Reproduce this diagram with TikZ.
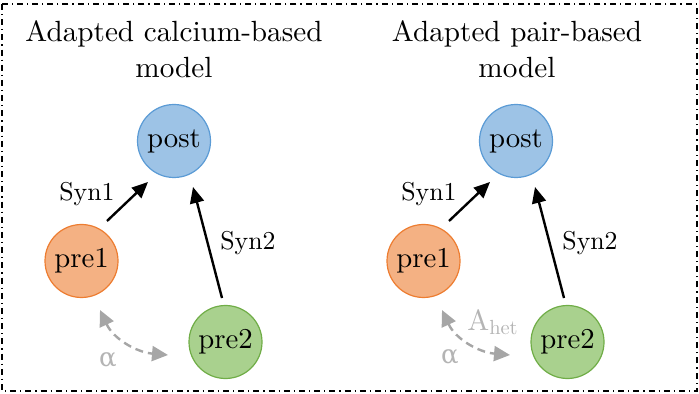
\documentclass[tikz,border=0pt]{standalone}
\usepackage{fontspec}
\setmainfont{lmroman10-regular.otf}[BoldFont=lmroman10-bold.otf,ItalicFont=lmroman10-italic.otf]
\newfontfamily\alphafont{DejaVu Serif}
\usetikzlibrary{arrows.meta,calc}
\definecolor{postfill}{HTML}{9DC3E6}
\definecolor{postdraw}{HTML}{5B9BD5}
\definecolor{preonefill}{HTML}{F4B183}
\definecolor{preonedraw}{HTML}{ED7D31}
\definecolor{pretwofill}{HTML}{A9D18E}
\definecolor{pretwodraw}{HTML}{70AD47}
\definecolor{arrgray}{HTML}{A6A6A6}
\definecolor{lblgray}{HTML}{B4B4B4}
\begin{document}
\begin{tikzpicture}[x=0.5pt,y=0.5pt,
  neuron/.style={circle,minimum size=36.5pt,inner sep=0pt,line width=0.6pt,font=\fontsize{14.4}{17}\selectfont},
  postn/.style={neuron,fill=postfill,draw=postdraw},
  preonen/.style={neuron,fill=preonefill,draw=preonedraw},
  pretwon/.style={neuron,fill=pretwofill,draw=pretwodraw},
  syn/.style={line width=1.2pt,-{Triangle[length=8pt,width=7pt]}},
  corr/.style={draw=arrgray,line width=1.2pt,dash pattern=on 4pt off 2.5pt,
    {Triangle[length=8pt,width=7.5pt,fill=arrgray]}-{Triangle[length=8pt,width=7.5pt,fill=arrgray]}},
  titletext/.style={align=center,inner sep=0pt,font=\fontsize{14.6}{18}\selectfont},
  synlbl/.style={inner sep=0pt,font=\fontsize{12.9}{15}\selectfont},
  glbl/.style={inner sep=0pt,text=lblgray,font=\fontsize{14.6}{16}\selectfont},
  frame/.style={line width=0.7pt,dash pattern=on 3pt off 2pt on 0.6pt off 2pt}]
\useasboundingbox (0,0) rectangle (699,-394);
\draw[frame] (2,-4) rectangle (697,-391);

% left panel
\node[titletext] (tL) at (174,-49) {Adapted calcium-based\\model};
\node[postn] (postL) at (174,-141) {post};
\node[preonen] (preoneL) at (81.5,-261) {pre1};
\node[pretwon] (pretwoL) at (225.5,-342) {pre2};
\draw[syn] ($(preoneL)+(25.5,40)$) -- ($(postL)+(-26,-41)$);
\draw[syn] ($(pretwoL)+(-3.5,44)$) -- ($(postL)+(19,-46)$);
\node[synlbl] (s1L) at (87,-194) {Syn1};
\node[synlbl] (s2L) at (248,-243) {Syn2};
\coordinate (aL1) at ($(preoneL)+(18.5,-49)$);
\coordinate (aL2) at ($(pretwoL)+(-57.5,-13)$);
\draw[corr] (aL1) to[out=-65,in=175] (aL2);
\node[glbl] (alL) at (108,-360) {\alphafont\fontsize{13}{15}\selectfont α};

% right panel
\node[titletext] (tR) at (517,-49) {Adapted pair-based\\model};
\node[postn] (postR) at (516,-141) {post};
\node[preonen] (preoneR) at (423.5,-261) {pre1};
\node[pretwon] (pretwoR) at (567.5,-342) {pre2};
\draw[syn] ($(preoneR)+(25.5,40)$) -- ($(postR)+(-26,-41)$);
\draw[syn] ($(pretwoR)+(-3.5,44)$) -- ($(postR)+(19,-46)$);
\node[synlbl] (s1R) at (429,-194) {Syn1};
\node[synlbl] (s2R) at (590,-243) {Syn2};
\coordinate (aR1) at ($(preoneR)+(18.5,-49)$);
\coordinate (aR2) at ($(pretwoR)+(-57.5,-13)$);
\draw[corr] (aR1) to[out=-65,in=175] (aR2);
\node[glbl] (alR) at (450,-357) {\alphafont\fontsize{13}{15}\selectfont α};
\node[glbl] (ahR) at (493,-322) {$\mathrm{A}_{\mathrm{het}}$};
\end{tikzpicture}
\end{document}
